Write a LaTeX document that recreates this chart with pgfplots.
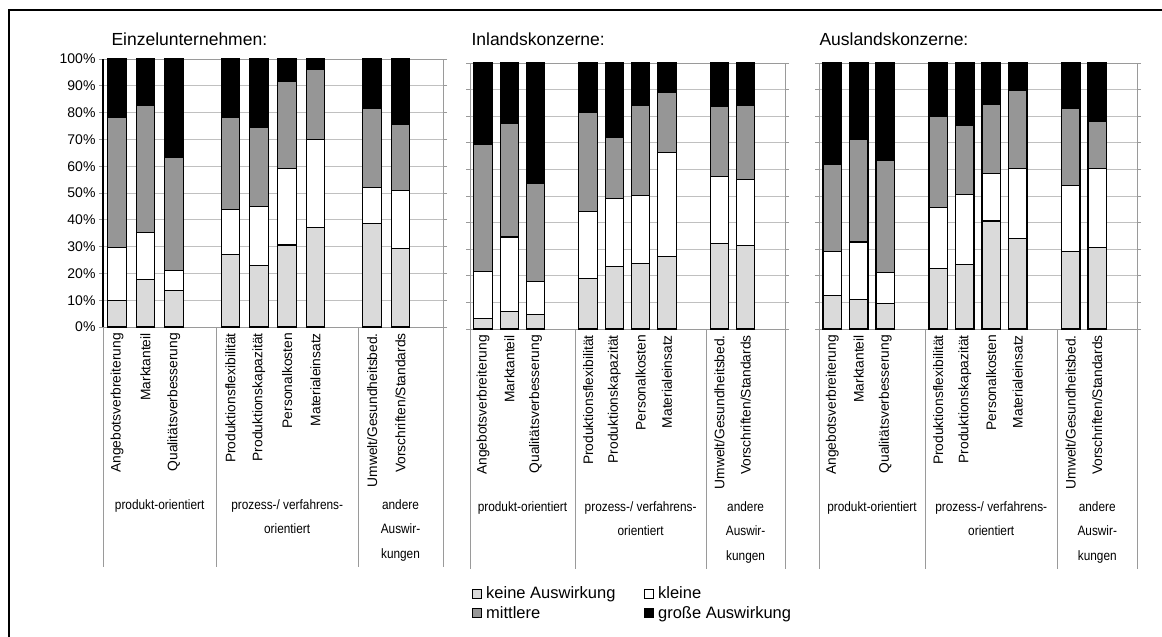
\documentclass[border=0pt]{standalone}
\usepackage{pgfplots}
\pgfplotsset{compat=1.18}
\usepackage{pgfplotstable}
\usepackage{fontspec}
\setmainfont{Liberation Sans}
\newfontfamily\condfont[FakeStretch=0.87]{Liberation Sans}

\definecolor{keinefill}{HTML}{DADADA}
\definecolor{mittelfill}{HTML}{969696}
\definecolor{gridgray}{HTML}{C0C0C0}
\definecolor{axisgray}{HTML}{9A9A9A}

% Anteile je Auswirkungsstufe (Prozent), Kategorien auf 0.5, 1.5, ...
\pgfplotstableread{
x    keine kleine mittlere grosse
0.5  10.0  19.6  48.5  21.9
1.5  17.8  17.3  47.5  17.4
2.5  13.7   7.4  42.2  36.7
4.5  27.1  16.9  34.1  21.9
5.5  22.8  22.2  29.6  25.4
6.5  30.6  28.4  32.5   8.5
7.5  37.2  32.7  26.1   4.0
9.5  38.7  13.4  29.5  18.4
10.5 29.2  21.7  24.7  24.4
}\einzel

\pgfplotstableread{
x    keine kleine mittlere grosse
0.5   4.1  17.6  47.7  30.6
1.5   6.5  28.1  42.8  22.6
2.5   5.6  12.1  37.2  45.1
4.5  19.0  25.1  37.4  18.5
5.5  23.6  25.5  23.0  27.9
6.5  24.7  25.6  33.8  15.9
7.5  27.2  39.0  22.9  10.9
9.5  32.2  25.1  26.2  16.5
10.5 31.3  25.0  27.8  15.9
}\inland

\pgfplotstableread{
x    keine kleine mittlere grosse
0.5  12.7  16.5  32.6  38.2
1.5  11.2  21.5  38.7  28.6
2.5   9.6  11.6  42.2  36.6
4.5  22.7  22.9  34.3  20.1
5.5  24.2  26.4  25.8  23.6
6.5  40.6  18.0  25.9  15.5
7.5  34.1  26.2  29.2  10.5
9.5  29.3  24.5  29.2  17.0
10.5 30.7  29.6  17.8  21.9
}\ausland

\tikzset{
  grouplabel/.style={anchor=north, align=center, inner sep=0pt,
    font=\condfont\fontsize{13.6bp}{24.5bp}\selectfont},
}

\pgfplotsset{
  panel/.style={
    ybar stacked, scale only axis, anchor=south west,
    xmin=0, xmax=12, ymin=0, ymax=100,
    bar width=18.5bp,
    axis line style={axisgray, line width=1bp},
    ymajorgrids, grid style={gridgray, line width=1bp},
    ytick={0,10,...,100},
    xtick={0.5,1.5,2.5,4.5,5.5,6.5,7.5,9.5,10.5},
    xticklabels={Angebotsverbreiterung, Marktanteil, Qualitätsverbesserung,
      Produktionsflexibilität, Produktionskapazität, Personalkosten,
      Materialeinsatz, Umwelt/Gesundheitsbed., Vorschriften/Standards},
    tick label style={font=\fontsize{14bp}{16bp}\selectfont},
    x tick label style={rotate=90, anchor=east, inner sep=2bp,
      font=\fontsize{13.8bp}{16bp}\selectfont},
    xtick style={draw=none},
    ytick style={axisgray, line width=1bp},
    tick align=outside, major tick length=4bp,
    clip=false,
    legend image code/.code={\draw[#1, line width=0.6bp] (0bp,-4.5bp) rectangle (9bp,4.5bp);},
  },
  keine/.style={fill=keinefill, draw=black, line width=1.1bp},
  kleine/.style={fill=white, draw=black, line width=1.1bp},
  mittlere/.style={fill=mittelfill, draw=black, line width=1.1bp},
  grosse/.style={fill=black, draw=black, line width=1.1bp},
}

% Gruppentrenner und Gruppenbeschriftungen unter der Kategorienachse
\newcommand{\gruppen}{%
  \pgfplotsinvokeforeach{0,4,9,12}{%
    \draw[axisgray, line width=1bp] (axis cs:##1,0) -- ++(0bp,-240bp);}
  \node[grouplabel, yshift=-172bp] at (axis cs:2,0) {produkt-orientiert};
  \node[grouplabel, yshift=-172bp] at (axis cs:6.5,0) {prozess-/ verfahrens-\\orientiert};
  \node[grouplabel, yshift=-172bp] at (axis cs:10.5,0) {andere\\Auswir-\\kungen};
}

\newcommand{\balken}[1]{%
  \addplot[keine] table[x=x, y=keine] {#1};
  \addplot[kleine] table[x=x, y=kleine] {#1};
  \addplot[mittlere] table[x=x, y=mittlere] {#1};
  \addplot[grosse] table[x=x, y=grosse] {#1};
}

\begin{document}
\begin{tikzpicture}

\draw[line width=2.8bp] (9bp,-637bp) -- (9bp,-10bp) -- (1162bp,-10bp);

\node[anchor=base west, font=\fontsize{17.5bp}{20bp}\selectfont] at (108bp,-45bp) {Einzelunternehmen:};
\node[anchor=base west, font=\fontsize{17.5bp}{20bp}\selectfont] at (468bp,-45bp) {Inlandskonzerne:};
\node[anchor=base west, font=\fontsize{17.5bp}{20bp}\selectfont] at (816bp,-45bp) {Auslandskonzerne:};

\begin{axis}[panel, at={(103bp,-327bp)}, width=340bp, height=268bp,
  yticklabels={0\%,10\%,20\%,30\%,40\%,50\%,60\%,70\%,80\%,90\%,100\%}]
  \balken{\einzel}
  \gruppen
  \draw[black, line width=1.2bp] (rel axis cs:0,0) -- (rel axis cs:0,1);
\end{axis}

\begin{axis}[panel, at={(470bp,-329bp)}, width=315bp, height=266bp,
  yticklabels={},
  legend columns=2, legend cell align=left,
  legend style={at={(0.006,-0.962)}, anchor=north west, draw=none, fill=none,
    inner sep=0pt, font=\fontsize{16.5bp}{18bp}\selectfont,
    nodes={inner sep=1.5bp}, row sep=3bp,
    /tikz/every odd column/.append style={column sep=3bp},
    /tikz/every even column/.append style={column sep=27bp}}]
  \balken{\inland}
  \gruppen
  \legend{keine Auswirkung, kleine, mittlere, große Auswirkung}
\end{axis}

\begin{axis}[panel, at={(819bp,-329bp)}, width=318bp, height=266bp,
  yticklabels={}]
  \balken{\ausland}
  \gruppen
\end{axis}

\pgfresetboundingbox
\path[use as bounding box] (0bp,0bp) rectangle (1162bp,-637bp);
\end{tikzpicture}
\end{document}
